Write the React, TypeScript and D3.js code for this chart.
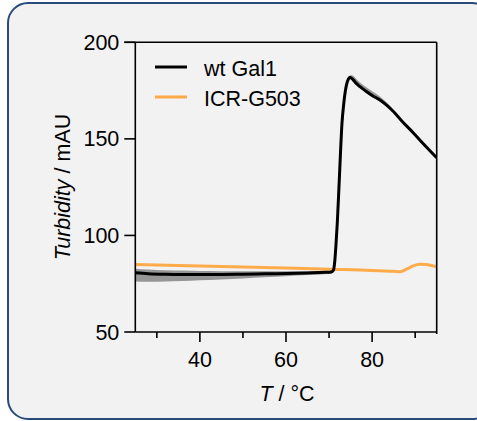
import React from "react";
import * as d3 from "d3";

const wtT = [25, 28, 32, 36, 40, 45, 50, 55, 60, 65, 69, 70.5, 71, 71.3, 71.6, 71.9, 72.2, 72.6, 73, 73.4, 73.8, 74.3, 74.9, 75.5, 76.2, 77.2, 78.5, 80, 81.9, 83.5, 85, 87, 89.7, 92, 95];
const wtMean = [80.7, 80.2, 79.9, 79.8, 79.8, 79.8, 79.9, 80.1, 80.3, 80.6, 80.9, 81.1, 82, 86, 95, 106, 120, 140, 158, 168, 175, 180, 181.8, 180.8, 179, 177, 174.8, 172.5, 170, 167.2, 164, 159, 152.8, 147.2, 140.2];
const wtLow = [76.2, 76.0, 76.1, 76.4, 76.8, 77.2, 77.7, 78.3, 78.9, 79.5, 79.9, 80.3, 81.3, 85.3, 94.3, 105.3, 119.3, 139.3, 157.3, 167.3, 174.3, 179.3, 181.0, 180.0, 178.2, 176.3, 174.0, 171.7, 169.2, 166.6, 163.5, 158.6, 152.4, 146.9, 139.9];
const wtHigh = [82.8, 82.4, 82.0, 81.8, 81.6, 81.5, 81.4, 81.4, 81.4, 81.4, 81.4, 81.6, 82.7, 86.7, 95.7, 106.7, 120.7, 140.7, 158.7, 168.7, 175.7, 181.0, 183.0, 182.8, 181.2, 179.2, 177.0, 174.6, 171.8, 168.6, 164.8, 159.5, 153.3, 147.6, 140.6];

const icrT = [25, 40, 55, 70, 80, 85, 86.5, 88, 89.5, 91, 92.5, 94, 95];
const icrVal = [85, 84.2, 83.4, 82.5, 81.9, 81.4, 81.2, 82.5, 84.2, 85.1, 85, 84.3, 83.8];

const xMajorTicks = [40, 60, 80];
const xMinorTicks = [30, 50, 70, 90];
const yTicks = [50, 100, 150, 200];

const seriesNames = ["wt Gal1", "ICR-G503"];
const seriesColors = ["#000000", "#FFAB4A"];

export default function App() {
  const W = 477, H = 421;
  const left = 135.3, right = 436.7, top = 42.3, bottom = 332;
  const x = d3.scaleLinear().domain([25, 95]).range([left, right]);
  const y = d3.scaleLinear().domain([50, 200]).range([bottom, top]);
  const font = "Liberation Sans, Arial, sans-serif";
  const fs = 21.5;

  const wtPts = wtT.map((t, i) => ({ t, m: wtMean[i], lo: wtLow[i], hi: wtHigh[i] }));
  const icrPts = icrT.map((t, i) => ({ t, v: icrVal[i] }));

  const band = d3.area<any>().x(d => x(d.t)).y0(d => y(d.lo)).y1(d => y(d.hi)).curve(d3.curveMonotoneX)(wtPts) || "";
  const wtLine = d3.line<any>().x(d => x(d.t)).y(d => y(d.m)).curve(d3.curveMonotoneX)(wtPts) || "";
  const icrLine = d3.line<any>().x(d => x(d.t)).y(d => y(d.v)).curve(d3.curveMonotoneX)(icrPts) || "";

  return (
    <svg width={W} height={H} style={{ position: "absolute", left: 0, top: 0 }} fontFamily={font}>
      <rect x={0} y={0} width={W} height={H} fill="#ffffff" />
      <rect x={8} y={3} width={484} height={416} rx={20} ry={20} fill="#f2f2f2" stroke="#2B4A7C" strokeWidth={2} />
      <defs>
        <clipPath id="plotclip">
          <rect x={left} y={top} width={right - left} height={bottom - top} />
        </clipPath>
      </defs>
      <g clipPath="url(#plotclip)">
        <path d={band} fill="#969696" />
        <path d={icrLine} fill="none" stroke={seriesColors[1]} strokeWidth={3} />
        <path d={wtLine} fill="none" stroke={seriesColors[0]} strokeWidth={3} strokeLinejoin="round" />
      </g>
      <line x1={left - 11} x2={right} y1={top} y2={top} stroke="#000" strokeWidth={1.6} />
      <line x1={right} x2={right} y1={top} y2={bottom + 2} stroke="#000" strokeWidth={1.6} />
      <line x1={left} x2={left} y1={top} y2={bottom} stroke="#000" strokeWidth={1.6} />
      <line x1={left} x2={right} y1={bottom} y2={bottom} stroke="#000" strokeWidth={1.6} />
      {yTicks.map(v => (
        <g key={"y" + v}>
          <line x1={left - 11} x2={left} y1={y(v)} y2={y(v)} stroke="#000" strokeWidth={1.6} />
          <text x={left - 16} y={y(v) + 7.6} textAnchor="end" fontSize={fs} fill="#000">{v}</text>
        </g>
      ))}
      {xMajorTicks.map(v => (
        <g key={"x" + v}>
          <line x1={x(v)} x2={x(v)} y1={bottom} y2={bottom + 10} stroke="#000" strokeWidth={1.6} />
          <text x={x(v)} y={bottom + 35} textAnchor="middle" fontSize={fs} fill="#000">{v}</text>
        </g>
      ))}
      {xMinorTicks.map(v => (
        <line key={"m" + v} x1={x(v)} x2={x(v)} y1={bottom} y2={bottom + 6} stroke="#000" strokeWidth={1.6} />
      ))}
      <text x={287} y={401} textAnchor="middle" fontSize={fs} fill="#000">
        <tspan fontStyle="italic">T</tspan> / °C
      </text>
      <text transform="translate(70,187) rotate(-90)" textAnchor="middle" fontSize={fs} fill="#000">
        <tspan fontStyle="italic">Turbidity</tspan> / mAU
      </text>
      {seriesNames.map((n, i) => (
        <g key={n}>
          <line x1={155} x2={187} y1={67 + i * 30} y2={67 + i * 30} stroke={seriesColors[i]} strokeWidth={3} />
          <text x={204} y={76 + i * 30} fontSize={fs} fill="#000">{n}</text>
        </g>
      ))}
    </svg>
  );
}
